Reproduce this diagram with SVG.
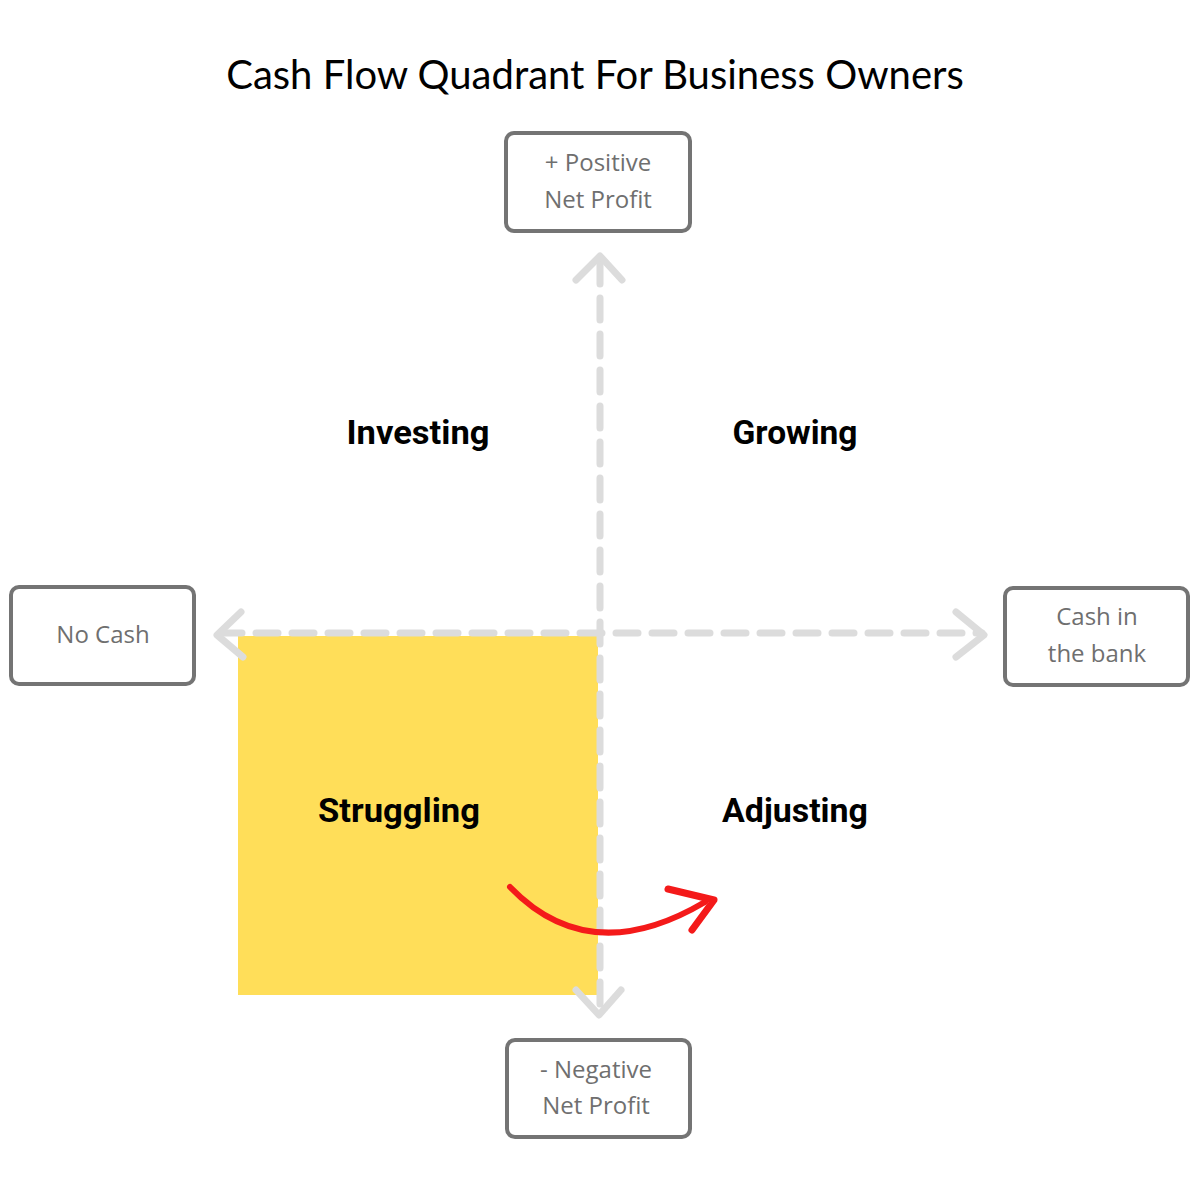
<svg xmlns="http://www.w3.org/2000/svg" width="1200" height="1200" viewBox="0 0 1200 1200">
<style>
.box{fill:#fff;stroke:#747474;stroke-width:4}
.bt{font-family:"Open Sans","Liberation Sans",sans-serif;font-size:24px;fill:#6f6f6f;text-anchor:middle}
.ax{fill:none;stroke:#dcdcdc;stroke-width:7;stroke-linecap:round;stroke-linejoin:round}
.ds{stroke-dasharray:22 14}
.q{font-family:"Roboto","Liberation Sans",sans-serif;font-weight:bold;font-size:33px;fill:#000;text-anchor:middle}
</style>
<rect width="1200" height="1200" fill="#fff"/>
<text x="595" y="89" font-family="Lato,'Open Sans',sans-serif" font-size="40" text-anchor="middle" fill="#000">Cash Flow Quadrant For Business Owners</text>
<rect x="238" y="636" width="360" height="359" fill="#FFDE59"/>
<g id="connectors">
<path class="ax ds" d="M600 262 V1012"/>
<path class="ax ds" d="M220 633 H982"/>
<path class="ax" d="M576 280 L600 256 L622 280"/>
<path class="ax" d="M576 990 L599 1015 L621 990"/>
<path class="ax" d="M241 612 L217 635 L243 657"/>
<path class="ax" d="M956 612 L984 635 L956 657"/>
<path d="M510 887 Q590 970 705 902" fill="none" stroke="#f41a1a" stroke-width="6" stroke-linecap="round"/>
<path d="M668 889 L714 900 L692 930" fill="none" stroke="#f41a1a" stroke-width="7" stroke-linecap="round" stroke-linejoin="round"/>
</g>
<g id="top"><rect class="box" x="506" y="133" width="184" height="98" rx="8"/><text class="bt" x="598" y="171">+ Positive</text><text class="bt" x="598" y="208">Net Profit</text></g>
<g id="bottom"><rect class="box" x="507" y="1040" width="183" height="97" rx="8"/><text class="bt" x="596" y="1078">- Negative</text><text class="bt" x="596" y="1114">Net Profit</text></g>
<g id="left"><rect class="box" x="11" y="587" width="183" height="97" rx="8"/><text class="bt" x="103" y="643">No Cash</text></g>
<g id="right"><rect class="box" x="1005" y="588" width="183" height="97" rx="8"/><text class="bt" x="1097" y="625">Cash in</text><text class="bt" x="1097" y="662">the bank</text></g>
<g id="investing"><text class="q" x="418" y="444" textLength="143" lengthAdjust="spacingAndGlyphs">Investing</text></g>
<g id="growing"><text class="q" x="795" y="444" textLength="125" lengthAdjust="spacingAndGlyphs">Growing</text></g>
<g id="struggling"><text class="q" x="399" y="822" textLength="162" lengthAdjust="spacingAndGlyphs">Struggling</text></g>
<g id="adjusting"><text class="q" x="795" y="822" textLength="146" lengthAdjust="spacingAndGlyphs">Adjusting</text></g>
</svg>
